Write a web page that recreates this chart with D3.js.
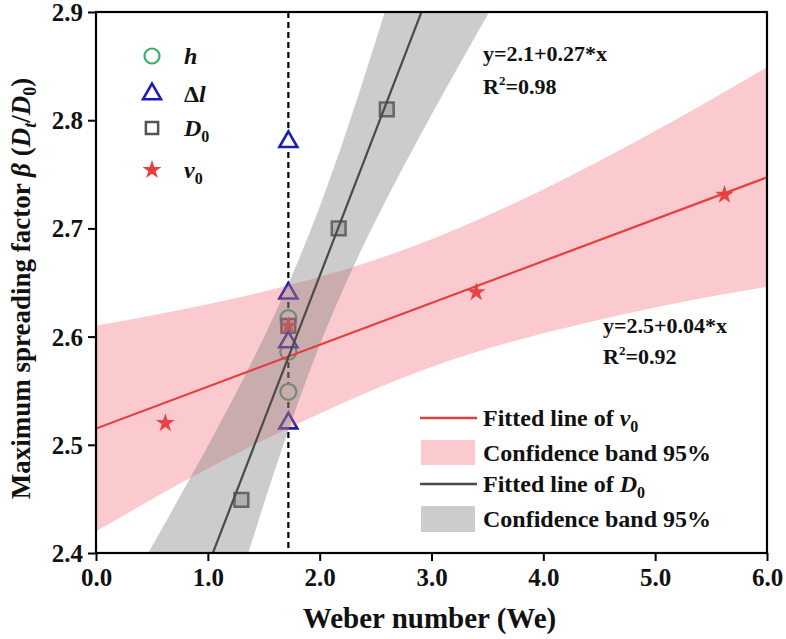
<!DOCTYPE html>
<html><head><meta charset="utf-8">
<script src="https://cdn.jsdelivr.net/npm/d3@7"></script>
<style>
body{margin:0;background:#fff}
svg{display:block}
text{font-family:"Liberation Serif","Times New Roman",serif;font-weight:bold;fill:#111}
</style>
</head><body><svg id="c" width="786" height="639"></svg>
<script>
// ---------- data ----------
const xTicks = [0, 1, 2, 3, 4, 5, 6];
const yTicks = [2.4, 2.5, 2.6, 2.7, 2.8, 2.9];
const weRef = 1.72;

const hX  = [1.72, 1.72, 1.72];
const hY  = [2.549, 2.586, 2.617];
const dlX = [1.72, 1.72, 1.72, 1.72];
const dlY = [2.52, 2.595, 2.64, 2.78];
const d0X = [1.30, 1.72, 2.17, 2.60];
const d0Y = [2.449, 2.61, 2.70, 2.81];
const v0X = [0.62, 1.72, 3.40, 5.62];
const v0Y = [2.52, 2.61, 2.641, 2.731];

// fitted lines as drawn: [intercept, slope]
const v0Fit = [2.515, 0.0387];
const d0Fit = [2.12, 0.268];

// 95% confidence bands
const v0BandX  = [0, 1, 2, 3, 4, 5, 6];
const v0BandLo = [2.420, 2.478, 2.529, 2.572, 2.603, 2.627, 2.646];
const v0BandHi = [2.610, 2.630, 2.655, 2.690, 2.736, 2.790, 2.849];
const d0BandX  = [0.2, 0.5, 1.0, 1.5, 2.0, 2.5, 3.0, 3.5, 4.0];
const d0BandLo = [1.995, 2.102, 2.277, 2.445, 2.592, 2.707, 2.805, 2.897, 2.986];
const d0BandHi = [2.352, 2.406, 2.499, 2.599, 2.720, 2.873, 3.043, 3.219, 3.398];

const eq1 = "y=2.1+0.27*x", r1 = "=0.98";
const eq2 = "y=2.5+0.04*x", r2 = "=0.92";

// ---------- layout ----------
const L = 96, R = 767, T = 12, B = 553;
const svg = d3.select("#c");
const x = d3.scaleLinear().domain([0, 6]).range([L, R]);
const y = d3.scaleLinear().domain([2.4, 2.9]).range([B, T]);

const C = {green: "#3aaf6a", blue: "#1c1cb0", gray: "#555555", red: "#e53e3e"};

svg.append("defs").append("clipPath").attr("id", "clip")
  .append("rect").attr("x", L).attr("y", T).attr("width", R - L).attr("height", B - T);
const plot = svg.append("g").attr("clip-path", "url(#clip)");

// dashed reference line
plot.append("line").attr("x1", x(weRef)).attr("x2", x(weRef)).attr("y1", T).attr("y2", B)
  .attr("stroke", "#000").attr("stroke-width", 2.2).attr("stroke-dasharray", "6,4");

// markers
const sym = (type, size) => d3.symbol().type(type).size(size)();
function pts(xs, ys) { return xs.map((v, i) => [v, ys[i]]); }

plot.selectAll(".h").data(pts(hX, hY)).join("circle")
  .attr("cx", d => x(d[0])).attr("cy", d => y(d[1])).attr("r", 8)
  .attr("fill", "#fff").attr("stroke", C.green).attr("stroke-width", 2.2);
plot.selectAll(".d0").data(pts(d0X, d0Y)).join("path")
  .attr("d", sym(d3.symbolSquare, 190))
  .attr("transform", d => `translate(${x(d[0])},${y(d[1])})`)
  .attr("fill", "#d0d0d0").attr("stroke", C.gray).attr("stroke-width", 2.5);
plot.selectAll(".dl").data(pts(dlX, dlY)).join("path")
  .attr("d", sym(d3.symbolTriangle, 140))
  .attr("transform", d => `translate(${x(d[0])},${y(d[1])})`)
  .attr("fill", "#fff").attr("stroke", C.blue).attr("stroke-width", 2.6);
plot.selectAll(".v0").data(pts(v0X, v0Y)).join("path")
  .attr("d", sym(d3.symbolStar, 110))
  .attr("transform", d => `translate(${x(d[0])},${y(d[1])})`)
  .attr("fill", C.red).attr("stroke", "none");

// confidence bands
const area = d3.area().curve(d3.curveNatural).x(d => x(d[0])).y0(d => y(d[1])).y1(d => y(d[2]));
plot.append("path").datum(v0BandX.map((v, i) => [v, v0BandLo[i], v0BandHi[i]]))
  .attr("d", area).attr("fill", "rgb(240,80,92)").attr("fill-opacity", 0.3);
plot.append("path").datum(d0BandX.map((v, i) => [v, d0BandLo[i], d0BandHi[i]]))
  .attr("d", area).attr("fill", "rgb(128,128,128)").attr("fill-opacity", 0.4);

// fitted lines
const fitLine = f => [[0, f[0]], [6, f[0] + 6 * f[1]]];
const line = d3.line().x(d => x(d[0])).y(d => y(d[1]));
plot.append("path").datum(fitLine(v0Fit)).attr("d", line)
  .attr("stroke", C.red).attr("stroke-width", 2.2).attr("fill", "none");
plot.append("path").datum(fitLine(d0Fit)).attr("d", line)
  .attr("stroke", "#4a4a4a").attr("stroke-width", 2.2).attr("fill", "none");

// axes
const ax = svg.append("g").attr("transform", `translate(0,${B})`)
  .call(d3.axisBottom(x).tickValues(xTicks).tickSize(8).tickSizeOuter(0).tickFormat(d3.format(".1f")));
const ay = svg.append("g").attr("transform", `translate(${L},0)`)
  .call(d3.axisLeft(y).tickValues(yTicks).tickSize(8).tickSizeOuter(0).tickFormat(d3.format(".1f")));
[ax, ay].forEach(g => {
  g.select(".domain").remove();
  g.selectAll("line").attr("stroke", "#000").attr("stroke-width", 2);
  g.selectAll("text").style("font-family", '"Liberation Serif",serif').style("font-weight", "bold")
   .style("font-size", "25px").attr("fill", "#111");
});
ax.selectAll("text").attr("dy", "0.9em").attr("y", 10);
ay.selectAll("text").attr("x", -13).attr("dy", "0.34em");

svg.append("rect").attr("x", L).attr("y", T).attr("width", R - L).attr("height", B - T)
  .attr("fill", "none").attr("stroke", "#000").attr("stroke-width", 2.2);

// axis titles
svg.append("text").attr("x", (L + R) / 2 - 2).attr("y", 628).attr("text-anchor", "middle")
  .style("font-size", "29px").text("Weber number (We)");

const yt = svg.append("text").attr("transform", `translate(30,${(T + B) / 2 + 6}) rotate(-90)`)
  .attr("text-anchor", "middle").style("font-size", "27px");
yt.append("tspan").text("Maximum spreading factor ");
yt.append("tspan").style("font-style", "italic").text("β");
yt.append("tspan").text(" (");
yt.append("tspan").style("font-style", "italic").text("D");
yt.append("tspan").style("font-style", "italic").style("font-size", "18px").attr("dy", 6).text("t");
yt.append("tspan").attr("dy", -6).text("/");
yt.append("tspan").style("font-style", "italic").text("D");
yt.append("tspan").style("font-size", "18px").attr("dy", 6).text("0");
yt.append("tspan").attr("dy", -6).text(")");

// annotations
function rText(xp, yp, txt) {
  const t = svg.append("text").attr("x", xp).attr("y", yp).style("font-size", "22px");
  t.append("tspan").text("R");
  t.append("tspan").attr("dy", -9).style("font-size", "13px").text("2");
  t.append("tspan").attr("dy", 9).text(txt);
}
svg.append("text").attr("x", 483).attr("y", 61).style("font-size", "22px").text(eq1);
rText(483, 94, r1);
svg.append("text").attr("x", 603).attr("y", 333).style("font-size", "22px").text(eq2);
rText(603, 364, r2);

// legend (markers)
const lg = svg.append("g");
const lx = 152;
lg.append("circle").attr("cx", lx).attr("cy", 56).attr("r", 7.5).attr("fill", "#fff")
  .attr("stroke", C.green).attr("stroke-width", 2.2);
lg.append("path").attr("d", sym(d3.symbolTriangle, 140)).attr("transform", `translate(${lx},94)`)
  .attr("fill", "#fff").attr("stroke", C.blue).attr("stroke-width", 2.6);
lg.append("path").attr("d", sym(d3.symbolSquare, 150)).attr("transform", `translate(${lx},128)`)
  .attr("fill", "#fff").attr("stroke", C.gray).attr("stroke-width", 2.5);
lg.append("path").attr("d", sym(d3.symbolStar, 110)).attr("transform", `translate(${lx},170)`)
  .attr("fill", C.red);

function lab(yp, parts) {
  const t = lg.append("text").attr("x", 184).attr("y", yp).style("font-size", "24px");
  parts.forEach(p => {
    const s = t.append("tspan").text(p.t);
    if (p.i) s.style("font-style", "italic");
    if (p.sub) s.style("font-size", "16px").attr("dy", 6);
  });
}
lab(64, [{t: "h", i: true}]);
lab(102, [{t: "Δ"}, {t: "l", i: true}]);
lab(136, [{t: "D", i: true}, {t: "0", sub: true}]);
lab(178, [{t: "v", i: true}, {t: "0", sub: true}]);

// legend (fits)
const g2 = svg.append("g");
g2.append("line").attr("x1", 420).attr("x2", 477).attr("y1", 418).attr("y2", 418)
  .attr("stroke", C.red).attr("stroke-width", 2.6);
g2.append("rect").attr("x", 421).attr("y", 440).attr("width", 54).attr("height", 25)
  .attr("fill", "rgb(240,80,92)").attr("fill-opacity", 0.3);
g2.append("line").attr("x1", 420).attr("x2", 477).attr("y1", 484).attr("y2", 484)
  .attr("stroke", "#4a4a4a").attr("stroke-width", 2.6);
g2.append("rect").attr("x", 421).attr("y", 506).attr("width", 54).attr("height", 26)
  .attr("fill", "rgb(128,128,128)").attr("fill-opacity", 0.4);
function lab2(yp, parts) {
  const t = g2.append("text").attr("x", 483).attr("y", yp).style("font-size", "24px");
  parts.forEach(p => {
    const s = t.append("tspan").text(p.t);
    if (p.i) s.style("font-style", "italic");
    if (p.sub) s.style("font-size", "16px").attr("dy", 6);
  });
}
lab2(426, [{t: "Fitted line of "}, {t: "v", i: true}, {t: "0", sub: true}]);
lab2(461, [{t: "Confidence band 95%"}]);
lab2(492, [{t: "Fitted line of "}, {t: "D", i: true}, {t: "0", sub: true}]);
lab2(527, [{t: "Confidence band 95%"}]);
</script>
</body></html>
